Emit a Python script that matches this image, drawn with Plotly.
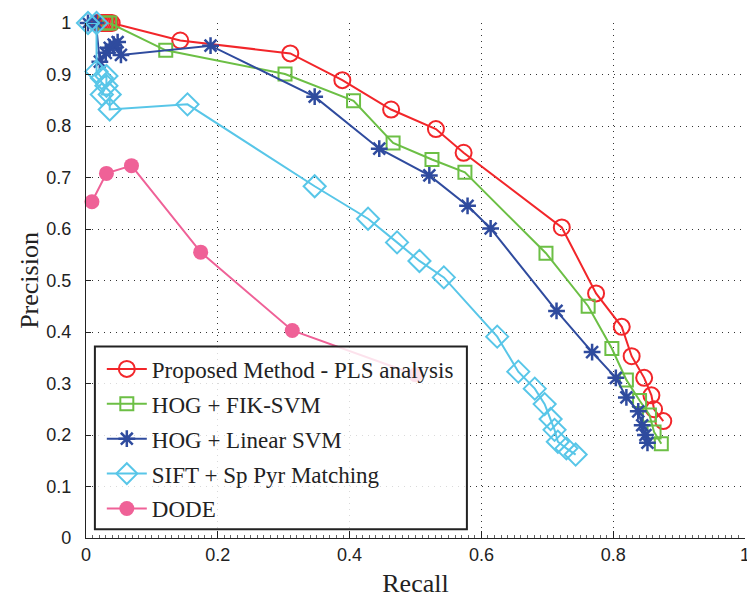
import plotly.graph_objects as go

# ---- data ----
pls_recall = [0.018, 0.021, 0.024, 0.027, 0.030, 0.033, 0.036, 0.039, 0.143, 0.310, 0.389, 0.463,
              0.531, 0.573, 0.722, 0.774, 0.813, 0.828, 0.847, 0.858, 0.862, 0.876]
pls_precision = [1.0, 1.0, 1.0, 1.0, 1.0, 1.0, 1.0, 1.0, 0.966, 0.941, 0.889, 0.832,
                 0.794, 0.748, 0.603, 0.475, 0.410, 0.353, 0.311, 0.277, 0.250, 0.227]

fik_recall = [0.030, 0.036, 0.121, 0.302, 0.406, 0.466, 0.525, 0.575, 0.698, 0.762, 0.798,
              0.820, 0.840, 0.855, 0.862, 0.873]
fik_precision = [1.0, 1.0, 0.947, 0.901, 0.849, 0.767, 0.735, 0.710, 0.553, 0.450, 0.368,
                 0.307, 0.267, 0.239, 0.206, 0.183]

lin_recall = [0.003, 0.015, 0.021, 0.030, 0.036, 0.042, 0.048, 0.053, 0.189, 0.347, 0.445,
              0.521, 0.579, 0.614, 0.714, 0.768, 0.804, 0.820, 0.838, 0.844, 0.849, 0.852]
lin_precision = [1.0, 1.0, 0.925, 0.942, 0.952, 0.958, 0.963, 0.938, 0.956, 0.857, 0.756,
                 0.704, 0.645, 0.601, 0.441, 0.361, 0.311, 0.273, 0.246, 0.219, 0.200, 0.185]

sift_recall = [0.003, 0.016, 0.016, 0.024, 0.031, 0.031, 0.024, 0.036, 0.036, 0.154, 0.347,
               0.428, 0.472, 0.506, 0.543, 0.624, 0.656, 0.681, 0.696, 0.705, 0.711, 0.716,
               0.729, 0.743]
sift_precision = [1.0, 1.0, 0.906, 0.893, 0.897, 0.878, 0.861, 0.861, 0.832, 0.842, 0.683,
                  0.620, 0.574, 0.538, 0.506, 0.391, 0.323, 0.290, 0.260, 0.231, 0.210, 0.187,
                  0.174, 0.162]

dode_recall = [0.009, 0.031, 0.069, 0.174, 0.313, 0.500]
dode_precision = [0.653, 0.708, 0.723, 0.555, 0.403, 0.317]

names = ["Proposed Method - PLS analysis", "HOG + FIK-SVM", "HOG + Linear SVM",
         "SIFT + Sp Pyr Matching", "DODE"]

x_ticks = [0, 0.2, 0.4, 0.6, 0.8, 1]
x_tick_text = ["0", "0.2", "0.4", "0.6", "0.8", "1"]
y_ticks = [0, 0.1, 0.2, 0.3, 0.4, 0.5, 0.6, 0.7, 0.8, 0.9, 1]
y_tick_text = ["0", "0.1", "0.2", "0.3", "0.4", "0.5", "0.6", "0.7", "0.8", "0.9", "1"]

RED = "#f2262a"
GREEN = "#6cbf45"
BLUE = "#2f4b9e"
CYAN = "#58c6e8"
PINK = "#ef6197"

fig = go.Figure()

def add(x, y, name, color, symbol, size, lw_marker, grp):
    marker = dict(symbol=symbol, size=size, color=color,
                  line=dict(color=color, width=lw_marker))
    fig.add_trace(go.Scatter(x=x, y=y, name=name, mode="lines+markers",
                             line=dict(color=color, width=2), marker=marker,
                             cliponaxis=False, legendgroup=grp))

add(pls_recall, pls_precision, names[0], RED, "circle-open", 16, 2, "g1")
add(fik_recall, fik_precision, names[1], GREEN, "square-open", 13, 2, "g2")
add(lin_recall, lin_precision, names[2], BLUE, "asterisk-open", 14, 2.5, "g3")
add(sift_recall, sift_precision, names[3], CYAN, "diamond-open", 17, 2, "g4")
add(dode_recall, dode_precision, names[4], PINK, "circle", 15, 0, "g5")

# legend box (semi-transparent)
fig.add_shape(type="rect", xref="paper", yref="paper", x0=0.0135, x1=0.578, y0=0.017, y1=0.372,
              line=dict(color="#222222", width=2), fillcolor="rgba(255,255,255,0.82)",
              layer="above")

# page body has an 8px default margin, so the figure is sized/offset to compensate
fig.update_layout(
    width=747, height=597,
    margin=dict(l=78, r=5, t=6, b=67),
    paper_bgcolor="white", plot_bgcolor="white",
    showlegend=True,
    legend=dict(x=0.024, y=0.370, xanchor="left", yanchor="top",
                bgcolor="rgba(0,0,0,0)", borderwidth=0,
                font=dict(family="Liberation Serif, DejaVu Serif, serif", size=23, color="#222222"),
                tracegroupgap=2, itemwidth=40),
    xaxis=dict(range=[0, 1], tickvals=x_ticks, ticktext=x_tick_text,
               showline=True, linecolor="#222222", linewidth=1.2, mirror=False,
               ticks="inside", ticklen=7, tickcolor="#222222", ticklabeloverflow="allow",
               minor=dict(ticks="inside", ticklen=3, dtick=0.01, tickcolor="#666666", showgrid=False),
               showgrid=True, gridcolor="#333333", griddash="1px,5px", gridwidth=1,
               zeroline=False,
               tickfont=dict(family="Liberation Sans Narrow, Liberation Sans, sans-serif", size=18, color="#222222"),
               title=dict(text="Recall", standoff=10,
                          font=dict(family="Liberation Serif, DejaVu Serif, serif", size=26, color="#222222"))),
    yaxis=dict(range=[0, 1], tickvals=y_ticks, ticktext=y_tick_text,
               showline=True, linecolor="#222222", linewidth=1.2, mirror=False,
               ticks="inside", ticklen=5, tickcolor="#222222", ticklabeloverflow="allow",
               showgrid=True, gridcolor="#333333", griddash="1px,5px", gridwidth=1,
               zeroline=False, ticklabelstandoff=10,
               tickfont=dict(family="Liberation Sans Narrow, Liberation Sans, sans-serif", size=18, color="#222222"),
               title=dict(text="Precision", standoff=0,
                          font=dict(family="Liberation Serif, DejaVu Serif, serif", size=26, color="#222222"))),
)

fig.write_html("out.html")
